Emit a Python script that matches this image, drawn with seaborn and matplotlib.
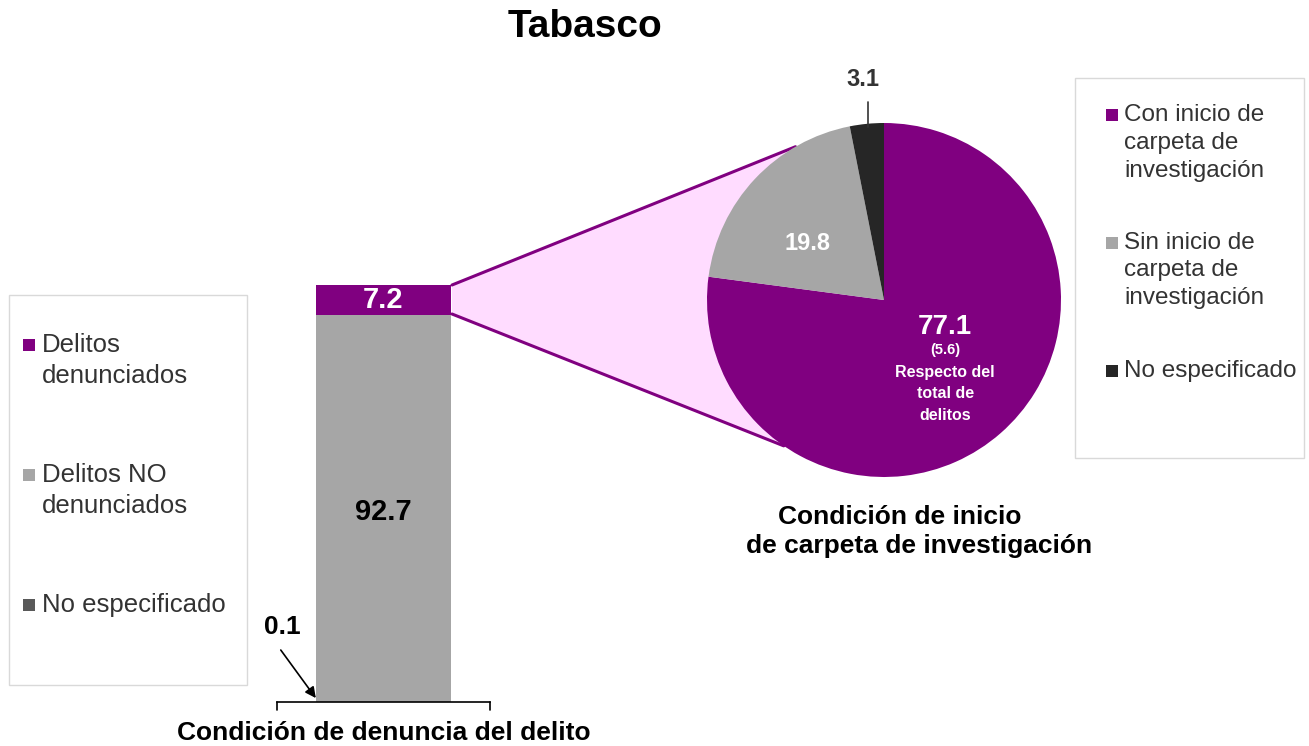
import numpy as np
import pandas as pd
import matplotlib.pyplot as plt
import seaborn as sns
from matplotlib.patches import Polygon, Rectangle

# datos
bar_labels = ["Delitos denunciados", "Delitos NO denunciados", "No especificado"]
bar_values = [7.2, 92.7, 0.1]
bar_category = "Condición de denuncia del delito"

pie_labels = ["Con inicio de carpeta de investigación",
              "Sin inicio de carpeta de investigación",
              "No especificado"]
pie_values = [77.1, 19.8, 3.1]
pie_share_total = 5.6
pie_title = ["Condición de inicio", "de carpeta de investigación"]

purple = "#800080"
gray = "#a6a6a6"
bar_colors = [purple, gray, "#595959"]
pie_colors = [purple, gray, "#262626"]
pink = "#ffdcff"
txt = "#333333"

sns.set_theme(style="white")
plt.rcParams['font.family'] = ['Liberation Sans', 'DejaVu Sans']

W, H = 1309, 746
fig = plt.figure(figsize=(W / 100, H / 100), dpi=100)

# overlay en pixeles
ov = fig.add_axes([0, 0, 1, 1])
ov.set_xlim(0, W)
ov.set_ylim(H, 0)
ov.axis('off')


def px_axes(x0, y0, x1, y1):
    ax = fig.add_axes([x0 / W, 1 - y1 / H, (x1 - x0) / W, (y1 - y0) / H])
    ax.patch.set_visible(False)
    return ax


fig.text(585 / W, 1 - 27 / H, "Tabasco", ha='center', va='center',
         fontsize=28, fontweight='bold', color='black')

# ---- barra apilada ----
axb = px_axes(277, 285, 490, 702)
stack = [2, 1, 0]  # de abajo hacia arriba
tops = np.cumsum(np.array(bar_values)[stack])
df = pd.DataFrame({"cat": [bar_category] * 3, "top": tops,
                   "color": [bar_colors[i] for i in stack]})
for i in reversed(range(len(df))):
    sns.barplot(x=[df["cat"][i]], y=[df["top"][i]], color=df["color"][i],
                saturation=1, width=0.638, linewidth=0, errorbar=None, ax=axb)
axb.set_xlim(-0.5, 0.5)
axb.set_ylim(0, 100)
axb.set_xticks([])
axb.set_yticks([])
axb.set_xlabel("")
axb.set_ylabel("")
for s in ['left', 'top', 'right']:
    axb.spines[s].set_visible(False)
axb.spines['bottom'].set_color('black')
axb.spines['bottom'].set_linewidth(1.2)
for xe in (-0.5, 0.5):
    axb.plot([xe, xe], [0, -2], color='black', lw=1.2, clip_on=False)

axb.text(0, tops[1] + bar_values[0] / 2, f"{bar_values[0]:.1f}", ha='center', va='center',
         color='white', fontsize=21, fontweight='bold')
axb.text(0, 45.6, f"{bar_values[1]:.1f}", ha='center', va='center',
         color='black', fontsize=21, fontweight='bold')
axb.text(-0.477, 18, f"{bar_values[2]:.1f}", ha='center', va='center',
         color='black', fontsize=19, fontweight='bold')
axb.annotate("", xy=(-0.31, 0.4), xytext=(-0.49, 13),
             arrowprops=dict(arrowstyle='-|>', color='black', lw=1.2, mutation_scale=16),
             annotation_clip=False)
ov.text(384, 733, bar_category, ha='center', va='center',
        fontsize=19, fontweight='bold', color='black')

# ---- conexion barra -> pastel ----
cx, cy, r = 884, 300, 177
a1, a2 = np.radians(120), np.radians(-124.5)
p1 = (cx + r * np.cos(a1), cy - r * np.sin(a1))
p2 = (cx + r * np.cos(a2), cy - r * np.sin(a2))
ov.add_patch(Polygon([(452, 285), p1, (cx, cy), p2, (452, 314)],
                     closed=True, fc=pink, ec='none', zorder=1))
ov.plot([452, p1[0]], [285, p1[1]], color=purple, lw=2.2, zorder=2)
ov.plot([452, p2[0]], [314, p2[1]], color=purple, lw=2.2, zorder=2)

# ---- pastel ----
axp = px_axes(cx - r, cy - r, cx + r, cy + r)
axp.pie(pie_values, colors=pie_colors, startangle=90, counterclock=False,
        wedgeprops=dict(linewidth=0))
axp.set_xlim(-1, 1)
axp.set_ylim(-1, 1)
axp.set_aspect('equal')

axp.text(-0.43, 0.32, f"{pie_values[1]:.1f}", ha='center', va='center',
         color='white', fontsize=17, fontweight='bold')
axp.text(0.345, -0.15, f"{pie_values[0]:.1f}", ha='center', va='center',
         color='white', fontsize=20, fontweight='bold')
axp.text(0.345, -0.285, f"({pie_share_total:.1f})", ha='center', va='center',
         color='white', fontsize=10.5, fontweight='bold')
for k, line in enumerate(["Respecto del", "total de", "delitos"]):
    axp.text(0.345, -0.41 - 0.12 * k, line, ha='center', va='center',
             color='white', fontsize=11.5, fontweight='bold')
axp.plot([-0.09, -0.09], [0.98, 1.12], color='#333333', lw=1.2, clip_on=False)
axp.text(-0.12, 1.18, f"{pie_values[2]:.1f}", ha='center', va='bottom',
         color='#333333', fontsize=17, fontweight='bold')

ov.text(900, 517, pie_title[0], ha='center', va='center',
        fontsize=19, fontweight='bold', color='black')
ov.text(919, 546, pie_title[1], ha='center', va='center',
        fontsize=19, fontweight='bold', color='black')


# ---- leyendas ----
def legend_box(box, entries, mx, tx, fsize):
    x0, y0, x1, y1 = box
    ov.add_patch(Rectangle((x0, y0), x1 - x0, y1 - y0, fc='white', ec='#d9d9d9', lw=1))
    for color, lines, ys in entries:
        ov.add_patch(Rectangle((mx, ys[0] - 6), 12, 12, fc=color, ec='none'))
        for line, y in zip(lines, ys):
            ov.text(tx, y, line, ha='left', va='center', fontsize=fsize, color=txt)


legend_box((9, 295, 247, 685),
           [(bar_colors[0], ["Delitos", "denunciados"], [345, 376]),
            (bar_colors[1], ["Delitos NO", "denunciados"], [475, 506]),
            (bar_colors[2], ["No especificado"], [605])],
           23, 42, 18.5)
legend_box((1075, 78, 1304, 458),
           [(pie_colors[0], ["Con inicio de", "carpeta de", "investigación"], [115, 143, 171]),
            (pie_colors[1], ["Sin inicio de", "carpeta de", "investigación"], [243, 270, 298]),
            (pie_colors[2], ["No especificado"], [371])],
           1106, 1124, 17.5)

fig.savefig("out.png", dpi=100)
